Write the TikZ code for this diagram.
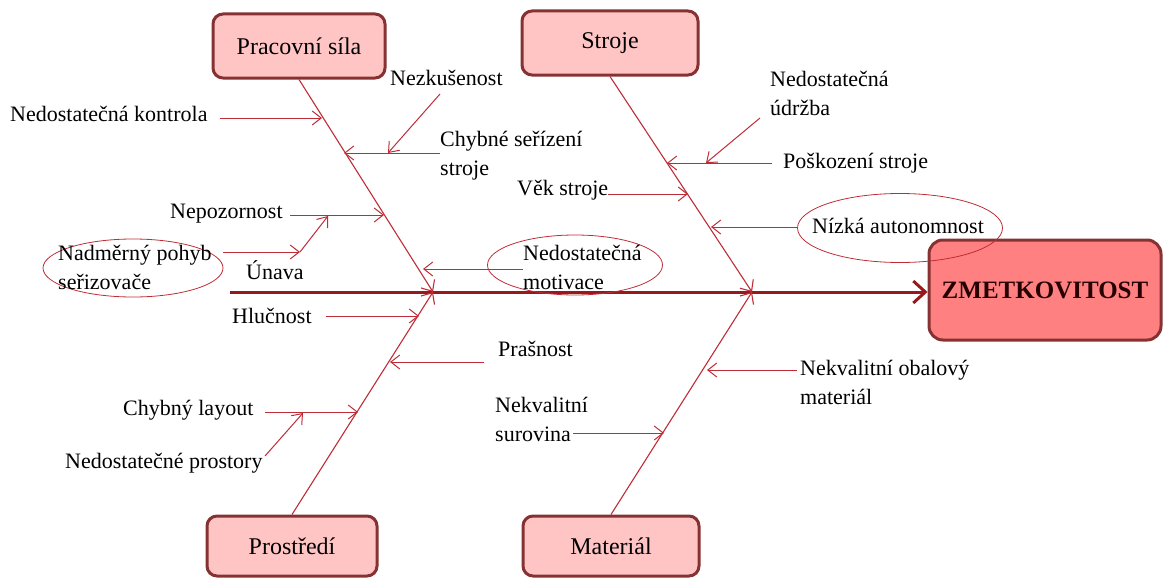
\documentclass[tikz,border=0pt]{standalone}
\usepackage{fontspec}
\setmainfont{Liberation Serif}
\usetikzlibrary{arrows.meta,calc,shapes.geometric}
\definecolor{boxfill}{RGB}{255,197,197}
\definecolor{boxline}{RGB}{135,50,50}
\definecolor{topfill}{RGB}{255,128,128}
\definecolor{bonered}{RGB}{190,45,55}
\definecolor{spinered}{RGB}{150,25,30}
\begin{document}
\begin{tikzpicture}[x=1pt,y=-1pt,
  catbox/.style={draw=boxline, line width=3pt, fill=boxfill, rounded corners=10pt,
    minimum width=172pt, minimum height=64pt, inner sep=0pt,
    font=\fontsize{24}{28}\selectfont},
  effectbox/.style={draw=boxline, line width=3pt, fill=topfill, rounded corners=14pt,
    minimum width=232pt, minimum height=100pt, inner sep=0pt,
    font=\fontsize{25}{28}\selectfont\bfseries, text=black!85!red},
  cause/.style={anchor=west, inner sep=0pt, font=\fontsize{22}{29}\selectfont, align=left},
  ring/.style={draw=bonered, line width=0.8pt, ellipse, inner sep=0pt},
  bone/.style={draw=bonered, line width=1.1pt, -{Straight Barb[length=9pt,width=16pt]}},
  sub/.style={draw=bonered, line width=1pt, -{Straight Barb[length=9pt,width=14pt]}},
  spine/.style={draw=spinered, line width=3pt, -{Straight Barb[length=12pt,width=22pt]}}]
\useasboundingbox (0,0) rectangle (1164,578);

% category boxes and the effect
\node[catbox] (prac) at (299,46) {Pracovní síla};
\node[catbox, minimum width=176pt] (stroje) at (610,43) {Stroje};
\node[catbox, minimum height=60pt, minimum width=170pt] (prost) at (292,546) {Prostředí};
\node[catbox, minimum height=60pt, minimum width=176pt] (mat) at (611,546) {Materiál};
\node[effectbox] (eff) at (1045,290) {ZMETKOVITOST};

% spine
\coordinate (spS) at (230,292);
\coordinate (J1) at (433,292);
\coordinate (J2) at (752,292);
\draw[spine] (spS) -- (spS -| eff.west);

% main bones
\draw[bone] (prac.south) -- (J1);
\draw[bone] (stroje.south) -- (J2);
\draw[bone] (prost.north) -- (J1);
\draw[bone] (mat.north) -- (J2);

% ellipses
\node[ring, minimum width=180pt, minimum height=58pt] (e1) at (133,268) {};
\node[ring, minimum width=175pt, minimum height=60pt] (e2) at (575,265) {};
\node[ring, minimum width=205pt, minimum height=69pt] (e3) at (900,228) {};

% causes: Pracovní síla
\node[cause] (c1) at (10,114) {Nedostatečná kontrola};
\node[cause] (c2) at (390,78) {Nezkušenost};
\node[cause] (c3) at (440,156) {Chybné seřízení\\stroje};
\node[cause] (c4) at (170,214) {Nepozornost};
\node[cause] (c5) at (58,267) {Nadměrný pohyb\\seřizovače};
\node[cause] (c6) at (246,270) {Únava};
\node[cause] (c7) at (523,267) {Nedostatečná\\motivace};

% causes: Stroje
\node[cause] (d1) at (770,93) {Nedostatečná\\údržba};
\node[cause] (d2) at (783,163) {Poškození stroje};
\node[cause] (d3) at (517,190) {Věk stroje};
\node[cause] (d4) at (812,226) {Nízká autonomnost};

% causes: Prostředí
\node[cause] (p1) at (232,316) {Hlučnost};
\node[cause] (p2) at (498,349) {Prašnost};
\node[cause] (p3) at (123,410) {Chybný layout};
\node[cause] (p4) at (65,463) {Nedostatečné prostory};

% causes: Materiál
\node[cause] (m1) at (800,382) {Nekvalitní obalový\\materiál};
\node[cause] (m2) at (495,419) {Nekvalitní\\surovina};

% attachment points
\coordinate (a1s) at (220,118);  \coordinate (a1e) at (322,118);
\coordinate (a2s) at (440,94);   \coordinate (a2e) at (388,153);
\coordinate (a3s) at (440,153);  \coordinate (a3e) at (344,153);
\coordinate (a4s) at (290,215);  \coordinate (a4e) at (384,215);
\coordinate (a5e) at (300,252);
\coordinate (a6e) at (328,216);
\coordinate (a7s) at (523,269);  \coordinate (a7e) at (423,269);

\coordinate (b1s) at (760,118);  \coordinate (b1e) at (706,163);
\coordinate (b2s) at (772,163);  \coordinate (b2e) at (667,163);
\coordinate (b3s) at (608,194);  \coordinate (b3e) at (688,194);
\coordinate (b4e) at (711,227);

\coordinate (q1s) at (326,316);  \coordinate (q1e) at (419,316);
\coordinate (q2s) at (484,362);  \coordinate (q2e) at (390,362);
\coordinate (q3s) at (265,412);  \coordinate (q3e) at (358,412);
\coordinate (q4s) at (265,456);  \coordinate (q4e) at (303,413);

\coordinate (r1s) at (797,370);  \coordinate (r1e) at (707,370);
\coordinate (r2s) at (573,433);  \coordinate (r2e) at (664,433);

% cause arrows
\draw[sub] (a1s) -- (a1e);
\draw[sub] (a2s) -- (a2e);
\draw[sub] (a3s) -- (a3e);
\draw[sub] (a4s) -- (a4e);
\draw[sub] (e1.east |- a5e) -- (a5e);
\draw[sub] (a5e) -- (a6e);
\draw[sub] (a7s) -- (a7e);

\draw[sub] (b1s) -- (b1e);
\draw[sub] (b2s) -- (b2e);
\draw[sub] (b3s) -- (b3e);
\draw[sub] (e3.west |- b4e) -- (b4e);

\draw[sub] (q1s) -- (q1e);
\draw[sub] (q2s) -- (q2e);
\draw[sub] (q3s) -- (q3e);
\draw[sub] (q4s) -- (q4e);

\draw[sub] (r1s) -- (r1e);
\draw[sub] (r2s) -- (r2e);
\end{tikzpicture}
\end{document}
